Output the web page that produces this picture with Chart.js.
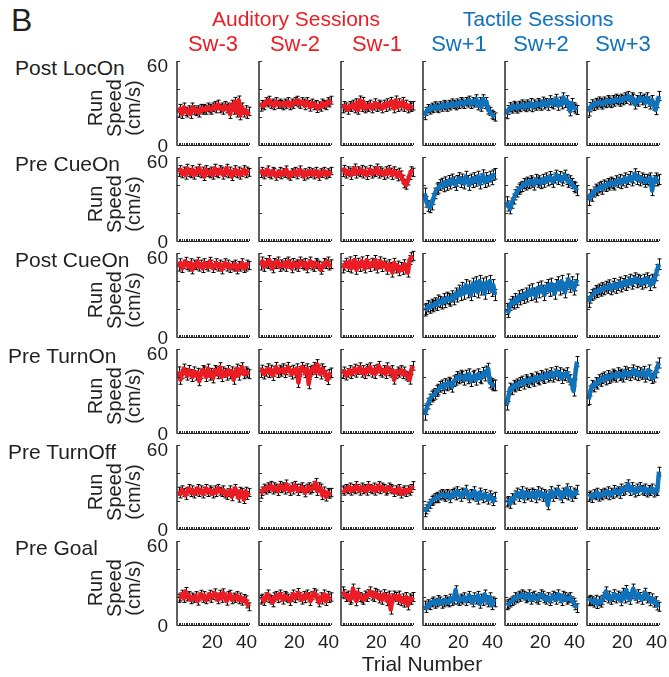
<!DOCTYPE html>
<html>
<head>
<meta charset="utf-8">
<script src="https://cdn.jsdelivr.net/npm/chart.js@4.4.1/dist/chart.umd.min.js"></script>
<style>
  body { margin: 0; background: #fff; }
  #fig { position: relative; width: 669px; height: 677px; overflow: hidden;
         font-family: Arial, "Liberation Sans", Helvetica, sans-serif; color: #231f20; }
  .t { position: absolute; white-space: nowrap; line-height: 1; }
  canvas { position: absolute; }
</style>
</head>
<body>
<div id="fig"></div>
<script>
const sessions = ['Sw-3', 'Sw-2', 'Sw-1', 'Sw+1', 'Sw+2', 'Sw+3'];
const periods = ['Post LocOn', 'Pre CueOn', 'Post CueOn', 'Pre TurnOn', 'Pre TurnOff', 'Pre Goal'];
const trials = [1,2,3,4,5,6,7,8,9,10,11,12,13,14,15,16,17,18,19,20,21,22,23,24,25,26,27,28,29,30,31,32,33,34,35,36,37,38,39,40,41,42];
const yTicks = [0, 20, 40, 60];
const yTickLabels = [0, 60];
const xTickLabels = [20, 40];

// mean run speed (cm/s) per trial, one series per session: Sw-3 .. Sw+3
const postLocOn = [
  [23,26,22,27,24,23,25,22,27,25,24,25,23,26,25,26,25,27,26,25,27,28,26,29,26,27,25,28,26,27,22,29,25,31,23,32,21,27,23,25,22,24],
  [27,29,28,31,30,32,29,30,28,31,29,30,29,28,30,29,31,28,30,29,31,32,30,29,31,30,28,31,29,27,30,28,29,26,28,27,30,29,28,31,30,32],
  [26,28,27,25,28,27,29,26,30,25,32,27,31,26,28,27,29,26,28,30,27,29,28,26,29,27,30,28,31,29,26,32,27,30,28,31,27,29,26,28,27,28],
  [21,24,26,25,27,26,28,27,26,28,27,29,28,27,29,28,30,29,28,30,29,31,30,29,31,30,32,29,31,30,33,28,31,27,33,29,31,25,24,22,21,20],
  [22,25,27,26,28,27,26,28,27,29,28,27,29,28,30,27,29,28,30,29,28,31,29,30,28,32,30,29,31,33,28,31,29,34,30,32,28,24,30,27,26,25],
  [24,27,29,28,30,29,31,30,29,31,30,32,31,30,32,31,33,32,31,33,32,34,33,35,32,34,33,29,32,31,34,32,33,30,34,31,29,32,28,25,30,35]
];
const preCueOn = [
  [49,51,48,50,47,52,49,48,51,47,50,49,52,48,50,46,51,49,48,50,47,52,49,48,51,50,47,49,52,48,50,46,49,51,48,50,47,49,51,48,50,49],
  [48,50,47,49,51,48,47,50,49,46,48,50,47,49,48,51,47,46,49,48,50,47,49,51,48,46,49,47,50,48,49,47,50,48,46,49,48,50,47,49,48,50],
  [49,51,48,50,49,47,50,52,48,50,49,51,48,50,47,49,51,48,50,49,52,48,50,49,47,50,48,51,49,47,50,48,46,49,47,44,41,40,43,47,50,49],
  [34,28,25,24,26,30,34,37,38,40,41,39,42,40,43,41,44,42,40,43,45,42,44,41,46,43,40,44,42,45,43,46,41,44,47,42,45,43,46,44,47,48],
  [28,25,23,27,30,33,35,37,38,39,41,40,42,41,43,42,40,44,42,43,41,44,42,45,43,46,44,42,45,47,44,46,43,45,47,44,42,43,41,39,38,36],
  [29,33,32,35,37,36,38,39,37,40,39,41,40,42,41,40,43,42,44,41,43,45,42,44,46,43,45,48,44,46,43,45,44,42,44,43,45,36,43,45,43,44]
];
const postCueOn = [
  [50,53,49,52,54,51,50,53,48,52,51,54,50,52,49,53,51,50,54,52,49,51,53,50,52,48,51,53,50,52,49,51,50,52,48,51,50,53,49,50,52,51],
  [51,54,50,53,52,55,51,49,53,52,54,50,52,51,53,50,54,52,49,53,51,52,50,54,52,51,53,49,52,54,51,50,53,52,51,48,50,53,52,54,51,52],
  [49,51,53,50,54,49,52,55,48,53,50,54,51,49,55,52,50,53,51,55,49,52,54,50,53,51,48,52,50,46,53,49,51,47,50,48,52,49,46,55,57,58],
  [19,20,22,21,23,22,24,23,26,25,24,27,25,28,27,26,29,27,31,29,33,30,35,31,37,32,36,30,38,33,39,32,40,34,38,31,39,35,40,33,37,30],
  [20,18,23,25,24,27,25,29,27,30,28,31,29,33,30,34,31,29,35,32,36,33,30,35,37,33,38,34,31,37,39,34,40,35,32,38,41,36,39,34,37,41],
  [25,28,30,31,33,32,34,33,35,34,36,35,37,34,36,38,35,37,39,36,38,40,37,39,41,38,40,42,39,41,40,38,41,39,42,40,37,41,39,44,48,52]
];
const preTurnOn = [
  [44,38,42,46,43,41,45,42,40,44,41,43,37,42,45,44,40,46,41,43,39,45,44,42,47,40,44,43,41,45,42,44,38,43,46,41,45,47,42,44,43,42],
  [43,45,42,44,46,43,45,41,44,47,43,45,44,46,43,45,47,44,42,45,43,46,36,44,47,45,43,46,35,44,45,47,43,49,45,42,46,44,41,38,42,43],
  [42,44,41,43,45,42,44,46,43,45,47,43,45,42,46,44,47,43,45,42,46,48,44,43,45,42,47,44,43,45,38,42,44,43,45,42,44,41,40,38,45,48],
  [13,17,21,24,26,27,28,30,31,33,34,32,35,34,36,35,33,37,38,40,39,41,40,38,41,39,42,37,40,41,38,42,40,39,43,41,44,46,36,35,34,34],
  [20,26,32,31,34,33,35,34,36,37,35,38,37,36,39,38,37,40,39,38,41,40,39,42,40,41,43,40,42,44,41,43,39,42,41,43,40,38,35,30,42,51],
  [24,30,34,33,36,35,38,37,39,40,38,41,39,40,42,41,40,43,41,42,40,44,42,43,41,43,45,42,44,41,43,42,44,40,42,45,41,39,40,43,47,50]
];
const preTurnOff = [
  [27,25,28,26,24,27,29,26,28,25,27,29,26,28,25,27,29,26,28,27,25,28,26,29,27,26,28,25,24,26,28,23,27,29,25,22,27,26,21,27,24,26],
  [25,27,29,28,30,29,31,28,30,29,27,31,29,30,28,32,29,27,30,28,31,29,27,29,30,28,26,29,30,28,29,31,33,27,30,29,24,27,23,26,25,26],
  [28,27,29,28,30,27,29,28,31,29,27,30,28,29,27,31,29,28,30,27,29,31,28,30,29,27,28,30,29,28,26,28,27,29,25,27,28,26,28,27,29,31],
  [12,14,16,18,20,21,22,23,22,24,25,24,23,25,24,22,25,26,24,27,25,23,26,25,28,24,22,25,24,27,23,21,26,24,22,25,23,21,24,22,20,23],
  [19,20,18,22,21,24,26,23,25,27,22,26,24,25,23,26,25,22,27,24,26,23,25,24,17,25,27,23,26,25,28,24,22,26,25,29,24,27,23,26,25,28],
  [23,24,22,25,24,26,23,25,24,26,25,27,24,26,25,28,26,27,25,29,27,28,30,32,27,30,28,26,29,27,30,28,27,29,26,28,27,29,26,28,27,41]
];
const preGoal = [
  [19,20,22,19,24,20,21,18,20,19,21,17,20,22,19,21,18,20,22,19,21,23,20,18,22,19,23,20,17,21,22,18,20,19,21,18,20,17,19,18,15,13],
  [18,19,17,20,22,19,18,16,20,21,19,22,20,18,21,20,19,17,20,22,19,21,23,20,18,21,19,22,20,17,21,23,22,19,16,20,18,22,17,21,19,20],
  [24,22,20,21,18,19,26,21,17,23,20,19,18,21,20,22,24,21,20,23,22,19,21,18,22,20,17,21,11,19,21,20,18,21,17,19,16,20,14,19,18,20],
  [14,12,15,14,16,17,15,16,18,17,15,16,18,17,16,19,17,18,25,18,17,19,18,20,17,19,21,18,16,20,18,21,15,19,17,22,18,16,20,14,17,16],
  [14,15,16,17,18,20,19,21,20,22,21,19,20,22,18,20,21,19,18,20,22,21,19,18,20,17,19,21,20,18,22,19,17,21,20,18,19,20,17,16,14,12],
  [17,18,17,16,18,15,17,16,18,20,24,19,21,18,20,22,19,21,20,17,23,19,25,20,18,22,26,21,19,22,20,18,21,23,19,20,17,19,16,17,14,13]
];

// s.e.m. (cm/s) for each panel, same order
const semPostLocOn  = [3.0, 2.8, 3.0, 2.9, 3.2, 3.3];
const semPreCueOn   = [2.8, 2.6, 3.0, 3.8, 3.6, 3.6];
const semPostCueOn  = [2.9, 3.1, 3.2, 4.0, 4.0, 3.8];
const semPreTurnOn  = [3.2, 3.4, 3.1, 3.8, 3.6, 3.6];
const semPreTurnOff = [2.8, 3.0, 2.8, 3.2, 3.2, 3.1];
const semPreGoal    = [2.8, 3.0, 3.2, 3.0, 3.1, 3.2];

const speeds = [postLocOn, preCueOn, postCueOn, preTurnOn, preTurnOff, preGoal];
const sems = [semPostLocOn, semPreCueOn, semPostCueOn, semPreTurnOn, semPreTurnOff, semPreGoal];

const RED = '#ec1c24';
const BLUE = '#0f72ba';
const AXIS = '#2b2b2b';

// panel grid
const left0 = 177, colStep = 82, plotW = 72;
const top0 = 61, rowStep = 96, plotH = 84;
const pad = 6;

const fig = document.getElementById('fig');

function addText(str, x, y, { size = 21, color = '#231f20', align = 'left' } = {}) {
  const d = document.createElement('div');
  d.className = 't';
  d.textContent = str;
  d.style.fontSize = size + 'px';
  d.style.color = color;
  d.style.left = x + 'px';
  d.style.top = y + 'px';
  const tx = align === 'center' ? '-50%' : align === 'right' ? '-100%' : '0';
  d.style.transform = `translate(${tx}, -50%)`;
  fig.appendChild(d);
  return d;
}

// black s.e.m. bars with small caps, drawn under the line
const errorBars = {
  id: 'errorBars',
  beforeDatasetsDraw(chart, args, opts) {
    const { ctx, scales: { x, y } } = chart;
    ctx.save();
    ctx.strokeStyle = '#000';
    ctx.lineWidth = 1;
    ctx.beginPath();
    chart.data.datasets[0].data.forEach(p => {
      const px = Math.round(x.getPixelForValue(p.x)) + 0.5;
      const top = y.getPixelForValue(p.y + opts.sem);
      const bot = y.getPixelForValue(p.y - opts.sem);
      ctx.moveTo(px, top); ctx.lineTo(px, bot);
      ctx.moveTo(px - 2, top); ctx.lineTo(px + 2, top);
      ctx.moveTo(px - 2, bot); ctx.lineTo(px + 2, bot);
    });
    ctx.stroke();
    ctx.restore();
  }
};

// plain L-shaped axes: inward y ticks, one x tick per trial
const panelAxes = {
  id: 'panelAxes',
  afterDraw(chart) {
    const { ctx, scales: { x, y } } = chart;
    const x0 = x.getPixelForValue(x.min);
    const x1 = x.getPixelForValue(x.max);
    const yb = y.getPixelForValue(0);
    const yt = y.getPixelForValue(60);
    ctx.save();
    ctx.strokeStyle = AXIS;
    ctx.lineWidth = 1.5;
    ctx.beginPath();
    ctx.moveTo(x0, yt); ctx.lineTo(x0, yb + 0.75);
    ctx.stroke();
    ctx.lineWidth = 1;
    ctx.beginPath();
    ctx.moveTo(x0, Math.round(yb) + 0.5); ctx.lineTo(x1, Math.round(yb) + 0.5);
    yTicks.forEach(v => {
      const py = Math.round(y.getPixelForValue(v)) + 0.5;
      ctx.moveTo(x0, py); ctx.lineTo(x0 + 3, py);
    });
    trials.forEach(t => {
      const px = Math.round(x.getPixelForValue(t)) + 0.5;
      ctx.moveTo(px, Math.round(yb)); ctx.lineTo(px, Math.round(yb) - 2);
    });
    ctx.stroke();
    ctx.restore();
  }
};

function makePanel(r, c) {
  const cv = document.createElement('canvas');
  const cl = left0 + c * colStep - pad;
  const ct = top0 + r * rowStep - pad;
  cv.width = plotW + 2 * pad;
  cv.height = plotH + 2 * pad;
  cv.style.left = cl + 'px';
  cv.style.top = ct + 'px';
  fig.appendChild(cv);
  const chart = new Chart(cv, {
    type: 'line',
    data: {
      datasets: [{
        data: trials.map((t, i) => ({ x: t, y: speeds[r][c][i] })),
        borderColor: c < 3 ? RED : BLUE,
        borderWidth: 4.5,
        borderJoinStyle: 'round',
        pointRadius: 0,
        tension: 0,
        clip: false
      }]
    },
    options: {
      responsive: false,
      animation: false,
      devicePixelRatio: 1,
      layout: { padding: pad },
      events: [],
      plugins: {
        legend: { display: false },
        tooltip: { enabled: false },
        errorBars: { sem: sems[r][c] }
      },
      scales: {
        x: { type: 'linear', min: 0, max: 42, display: false },
        y: { min: 0, max: 60, display: false }
      }
    },
    plugins: [errorBars, panelAxes]
  });
  return { chart, cl, ct };
}

const rowLabelX = [15, 15, 15, 8, 8, 15];

periods.forEach((period, r) => {
  const rowTop = top0 + r * rowStep;
  addText(period, rowLabelX[r], rowTop + 6);
  let first = null;
  sessions.forEach((s, c) => {
    const p = makePanel(r, c);
    if (c === 0) first = p;
    if (r === periods.length - 1) {
      xTickLabels.forEach(v => {
        addText(String(v), p.cl + p.chart.scales.x.getPixelForValue(v) + 1, 641, { size: 19, align: 'center' });
      });
    }
  });
  yTickLabels.forEach(v => {
    const py = first.ct + first.chart.scales.y.getPixelForValue(v);
    addText(String(v), 168, py + (v === 60 ? 4 : 0), { size: 19, align: 'right' });
  });
  // rotated y-axis title
  const yt = document.createElement('div');
  yt.className = 't';
  yt.innerHTML = 'Run<br>Speed<br>(cm/s)';
  yt.style.fontSize = '20px';
  yt.style.lineHeight = '19px';
  yt.style.textAlign = 'center';
  yt.style.left = '114px';
  yt.style.top = (rowTop + 47) + 'px';
  yt.style.transform = 'translate(-50%, -50%) rotate(-90deg)';
  fig.appendChild(yt);
});

sessions.forEach((s, c) => {
  addText(s, left0 + c * colStep + plotW / 2, 44, { size: 22, color: c < 3 ? RED : BLUE, align: 'center' });
});
addText('Auditory Sessions', 296, 18, { color: RED, align: 'center' });
addText('Tactile Sessions', 538, 18, { color: BLUE, align: 'center' });
addText('B', 11, 20, { size: 32 });
addText('Trial Number', 422, 663, { size: 21, align: 'center' });
</script>
</body>
</html>
